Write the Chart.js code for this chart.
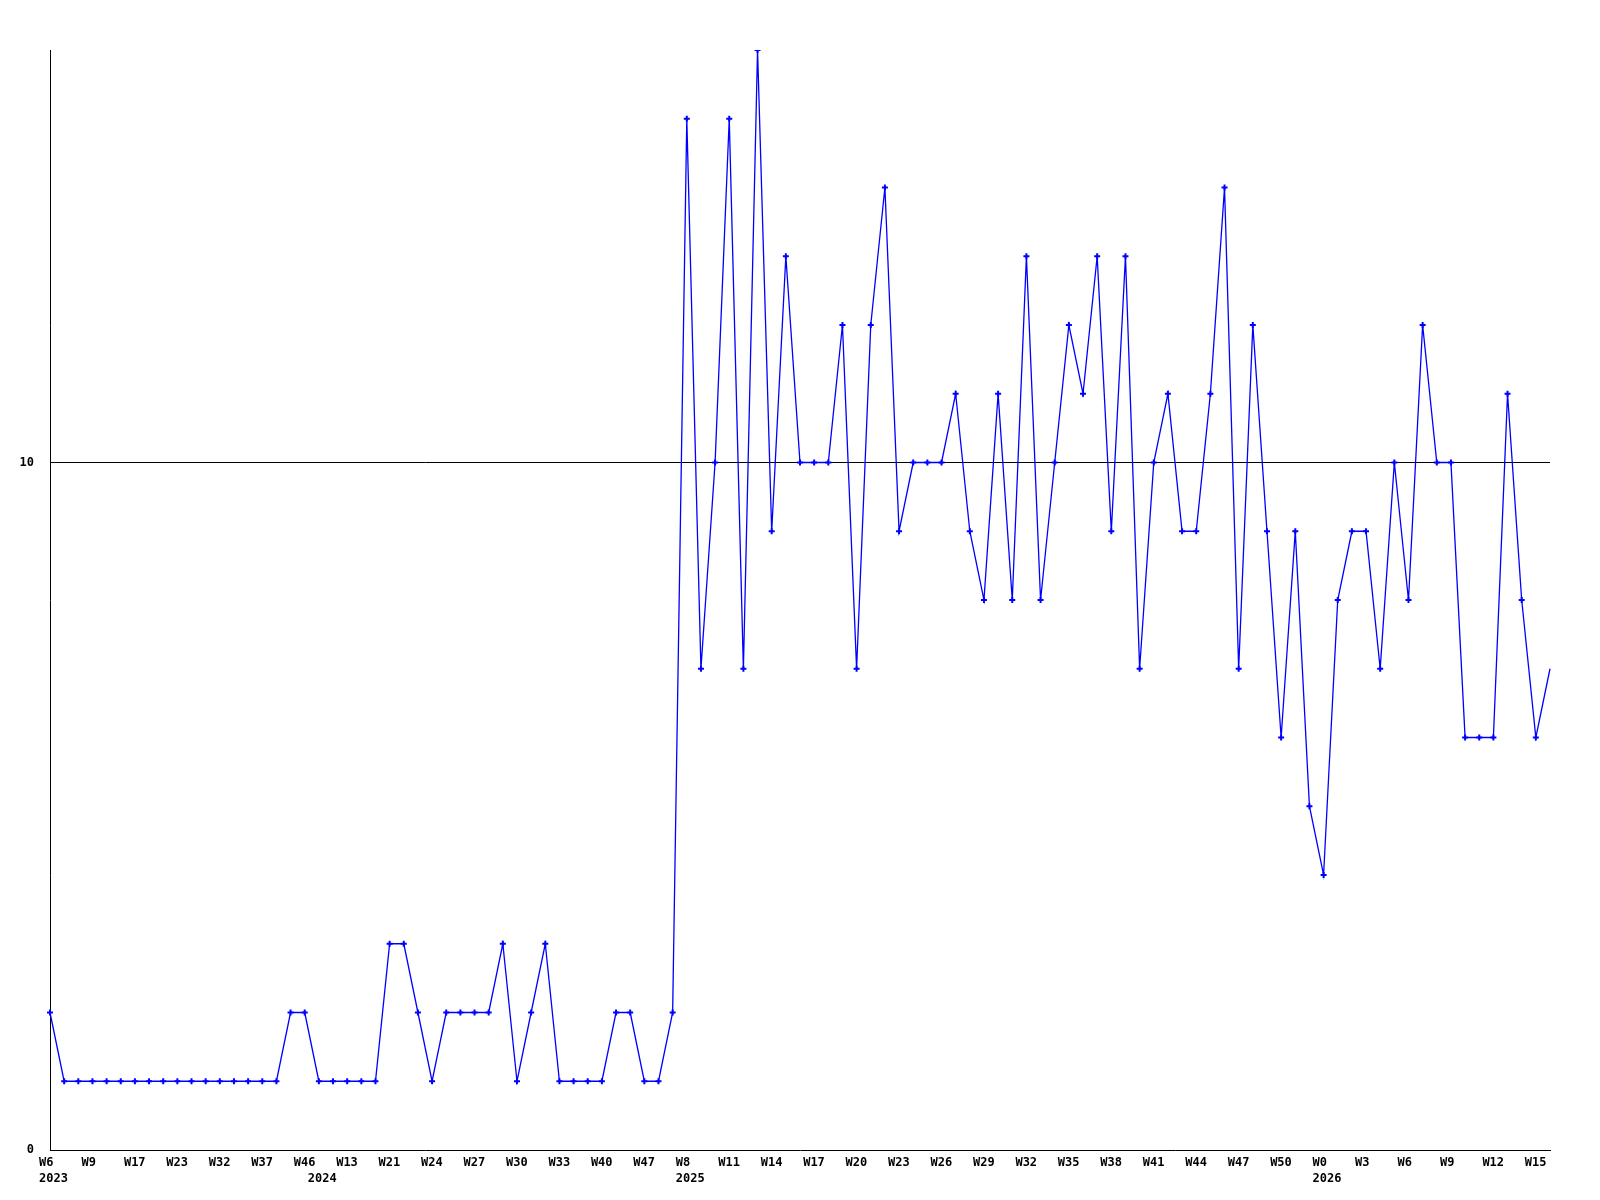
<!DOCTYPE html>
<html>
<head>
<meta charset="UTF-8">
<title>weekly</title>
<script src="https://cdn.jsdelivr.net/npm/chart.js"></script>
<style>
  body { margin: 0; background: #fff; }
  #wrap { width: 1600px; height: 1200px; }
</style>
</head>
<body>
<div id="wrap"><canvas id="chart"></canvas></div>
<script>
// week of each point (only every 3rd one is labelled)
const weeks = [
  'W6','W7','W8','W9','W12','W14','W17','W19','W21','W23','W26','W29','W32','W34','W35','W37','W40','W43','W46',
  'W2','W8','W13','W16','W18','W21','W22','W23','W24','W25','W26','W27','W28','W29','W30','W31','W32','W33','W35',
  'W38','W40','W42','W45','W47','W49','W51',
  'W8','W9','W10','W11','W12','W13','W14','W15','W16','W17','W18','W19','W20','W21','W22','W23','W24','W25','W26',
  'W27','W28','W29','W30','W31','W32','W33','W34','W35','W36','W37','W38','W39','W40','W41','W42','W43','W44','W45',
  'W46','W47','W48','W49','W50','W51','W52',
  'W0','W1','W2','W3','W4','W5','W6','W7','W8','W9','W10','W11','W12','W13','W14','W15','W16'
];
const yearLabels = ['2023', '2024', '2025', '2026'];
const yearStart = [0, 19, 45, 90];   // index of first point in each year

const values = [
  2, 1, 1, 1, 1, 1, 1, 1, 1, 1, 1, 1, 1, 1, 1, 1, 1, 2, 2,
  1, 1, 1, 1, 1, 3, 3, 2, 1, 2, 2, 2, 2, 3, 1, 2, 3, 1, 1, 1, 1, 2, 2, 1, 1, 2,
  15, 7, 10, 15, 7, 16, 9, 13, 10, 10, 10, 12, 7, 12, 14, 9, 10, 10, 10, 11, 9, 8,
  11, 8, 13, 8, 10, 12, 11, 13, 9, 13, 7, 10, 11, 9, 9, 11, 14, 7, 12, 9, 6, 9, 5,
  4, 8, 9, 9, 7, 10, 8, 12, 10, 10, 6, 6, 6, 11, 8, 6, 7
];
const yTicks = [0, 10];

const tickFont = { family: 'DejaVu Sans Mono', size: 12, weight: 'bold', lineHeight: 1.3 };

new Chart(document.getElementById('chart'), {
  type: 'line',
  data: {
    labels: weeks,
    datasets: [{
      data: values,
      borderColor: '#0000ff',
      backgroundColor: '#0000ff',
      borderWidth: 1.3,
      tension: 0,
      pointStyle: 'cross',
      pointRadius: ctx => ctx.dataIndex === values.length - 1 ? 0 : 3,
      pointBorderWidth: 2,
      pointHoverRadius: 3
    }]
  },
  options: {
    responsive: true,
    maintainAspectRatio: false,
    animation: false,
    layout: { padding: { top: 50, right: 50, left: 0, bottom: 0 } },
    plugins: { legend: { display: false }, tooltip: { enabled: false } },
    scales: {
      x: {
        offset: false,
        grid: { color: 'rgba(0,0,0,0)', drawTicks: false },
        border: { display: true, color: '#000', width: 1 },
        afterFit: s => { s.height = 50; },
        ticks: {
          autoSkip: false,
          maxRotation: 0,
          minRotation: 0,
          align: 'start',
          labelOffset: -11,
          padding: 5,
          color: '#000',
          font: tickFont,
          callback: (v, i) => {
            const w = i % 3 === 0 ? weeks[i] : '';
            const y = yearStart.indexOf(i);
            return y >= 0 ? [w, yearLabels[y]] : w;
          }
        }
      },
      y: {
        min: 0,
        max: 16,
        afterBuildTicks: s => { s.ticks = yTicks.map(v => ({ value: v })); },
        afterFit: s => { s.width = 50; },
        grid: {
          color: ctx => ctx.tick && ctx.tick.value === 10 ? '#000' : 'rgba(0,0,0,0)',
          drawTicks: false
        },
        border: { display: true, color: '#000', width: 1 },
        ticks: { padding: 16, color: '#000', font: tickFont }
      }
    }
  }
});
</script>
</body>
</html>
